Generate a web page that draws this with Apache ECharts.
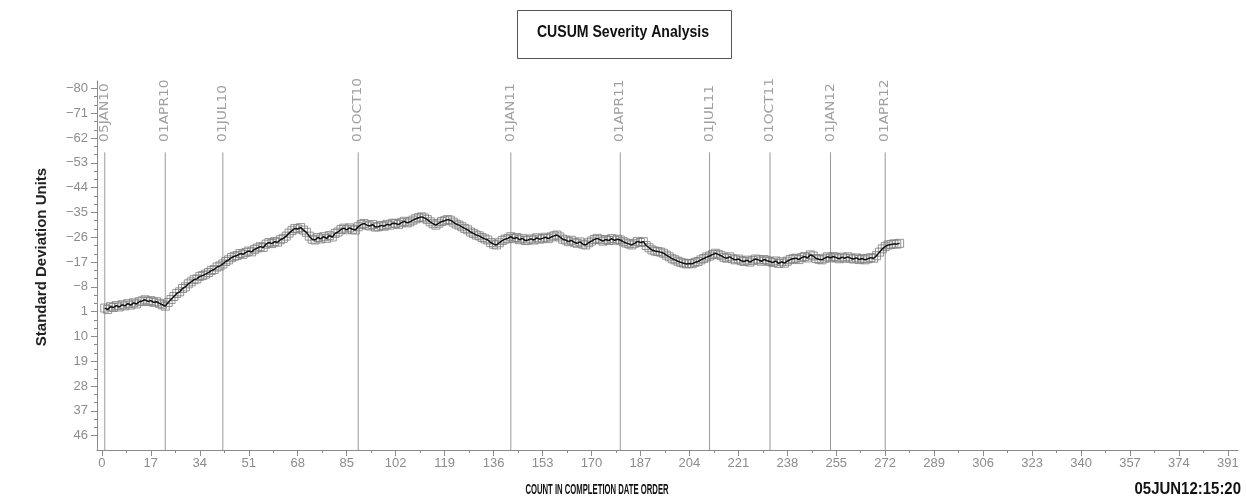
<!DOCTYPE html>
<html>
<head>
<meta charset="utf-8">
<script src="https://cdn.jsdelivr.net/npm/echarts@6/dist/echarts.min.js"></script>
<style>
html,body{margin:0;padding:0;background:#fff;}
#chart{width:1246px;height:497px;}
</style>
</head>
<body>
<div id="chart"></div>
<script>
// CUSUM values, one per count in completion date order (count 1..277)
const cusum = [
 -0.3, 0.2, -0.8, -0.5, -1.2, -0.7, -1.5, -1.1, -1.9, -1.4,
 -2.2, -1.8, -2.6, -2.9, -3.3, -2.7, -3.0, -2.4, -2.6, -2.0,
 -1.5, -1.0, -2.3, -3.4, -4.5, -5.6, -6.2, -7.4, -8.0, -9.1,
 -9.8, -10.6, -10.9, -11.8, -12.1, -12.6, -13.2, -13.9, -14.3, -15.2,
 -15.6, -16.3, -17.2, -17.8, -18.6, -19.1, -19.4, -20.1, -19.8, -20.5,
 -21.0, -20.7, -21.6, -22.1, -22.6, -22.3, -23.5, -24.1, -23.7, -24.4,
 -24.2, -25.1, -25.6, -26.4, -27.5, -28.4, -29.2, -29.0, -29.5, -28.6,
 -27.8, -26.4, -25.3, -25.0, -25.9, -25.4, -26.2, -25.6, -26.6, -26.1,
 -27.4, -27.9, -28.8, -29.3, -28.7, -29.4, -28.9, -28.6, -29.8, -30.6,
 -31.0, -30.4, -30.1, -30.6, -29.7, -29.8, -30.3, -30.0, -30.7, -30.4,
 -31.1, -31.0, -30.6, -31.3, -31.8, -31.2, -31.6, -32.2, -32.7, -33.1,
 -33.4, -33.0, -32.4, -31.6, -30.9, -30.4, -31.1, -31.7, -32.0, -32.4,
 -32.2, -31.5, -30.8, -30.4, -29.8, -29.2, -28.7, -27.9, -27.4, -26.8,
 -26.5, -25.9, -25.4, -25.0, -24.1, -23.5, -23.2, -24.0, -24.8, -25.3,
 -25.6, -26.2, -25.5, -25.9, -25.1, -25.6, -24.8, -25.0, -25.4, -25.0,
 -25.8, -25.3, -25.6, -26.0, -25.5, -26.1, -26.5, -26.8, -26.1, -25.3,
 -25.0, -24.4, -24.9, -24.2, -23.8, -24.3, -23.5, -23.2, -24.0, -24.6,
 -25.2, -25.6, -25.1, -24.6, -25.2, -24.8, -25.5, -24.9, -25.3, -25.0,
 -24.4, -23.9, -23.6, -23.2, -23.8, -24.5, -24.1, -24.4, -23.0, -22.2,
 -21.4, -21.0, -20.8, -20.6, -20.2, -19.5, -18.9, -18.2, -17.8, -17.3,
 -16.9, -16.6, -16.3, -16.5, -16.4, -16.9, -17.2, -17.8, -18.3, -18.8,
 -19.2, -19.7, -20.2, -19.8, -19.3, -18.7, -18.4, -18.9, -18.2, -17.8,
 -18.1, -17.5, -17.2, -17.7, -17.0, -17.6, -18.1, -17.8, -17.3, -17.9,
 -17.5, -17.2, -16.8, -17.4, -16.5, -17.1, -16.6, -17.3, -17.9, -18.2,
 -18.4, -17.9, -18.6, -19.0, -18.5, -19.6, -19.2, -18.3, -18.0, -17.8,
 -18.4, -18.9, -18.5, -19.0, -18.6, -18.2, -18.8, -18.4, -18.9, -18.4,
 -18.1, -18.5, -17.9, -18.3, -17.8, -18.2, -18.6, -18.4, -19.3, -20.6,
 -21.8, -22.6, -23.2, -23.4, -23.6, -23.5, -23.8
];
const refDates  = ['05JAN10','01APR10','01JUL10','01OCT10','01JAN11','01APR11','01JUL11','01OCT11','01JAN12','01APR12'];
const refCounts = [1, 22, 42, 89, 142, 180, 211, 232, 253, 272];
const xTicks = [0,17,34,51,68,85,102,119,136,153,170,187,204,221,238,255,272,289,306,323,340,357,374,391];
const yTicks = [-80,-71,-62,-53,-44,-35,-26,-17,-8,1,10,19,28,37,46];
const titleText = 'CUSUM Severity Analysis';
const yTitle = 'Standard Deviation Units';
const xTitle = 'COUNT IN COMPLETION DATE ORDER';
const stamp = '05JUN12:15:20';

const X_MIN = -1.7, X_MAX = 394.5, Y_MIN = -82.7, Y_MAX = 51.2;
const LINE_TOP = -56.8, LABEL_BOTTOM = -60.6;

const xMinor = xTicks.slice(0, -1).map(v => v + 8.5);
const yMinor = [];
yTicks.slice(0, -1).forEach(v => { yMinor.push(v + 3, v + 6); });

const pts = cusum.map((v, i) => [i + 1, v]);
const refData = refCounts.map((c, i) => [c, i]);

const gray = '#8a8a8a';
const narrow = "'Liberation Sans Narrow', 'Liberation Sans', sans-serif";

const chart = echarts.init(document.getElementById('chart'), null, {renderer: 'canvas'});
chart.setOption({
  backgroundColor: '#fff',
  animation: false,
  grid: {left: 97, right: 8, top: 81, bottom: 47, containLabel: false},
  xAxis: [{
    type: 'value', min: X_MIN, max: X_MAX, position: 'bottom',
    axisLine: {show: true, onZero: false, lineStyle: {color: gray, width: 1}},
    axisTick: {show: true, customValues: xTicks, length: 6, lineStyle: {color: gray}},
    axisLabel: {show: true, customValues: xTicks, color: '#8c8c8c', fontFamily: narrow, fontSize: 13, margin: 7},
    splitLine: {show: false}
  }, {
    type: 'value', min: X_MIN, max: X_MAX, position: 'bottom',
    axisLine: {show: false, onZero: false},
    axisTick: {show: true, customValues: xMinor, length: 3, lineStyle: {color: gray}},
    axisLabel: {show: false},
    splitLine: {show: false}
  }],
  yAxis: [{
    type: 'value', inverse: true, min: Y_MIN, max: Y_MAX, position: 'left',
    axisLine: {show: true, onZero: false, lineStyle: {color: gray, width: 1}},
    axisTick: {show: true, customValues: yTicks, length: 6, lineStyle: {color: gray}},
    axisLabel: {show: true, customValues: yTicks, color: '#8c8c8c', fontFamily: narrow, fontSize: 13, margin: 9,
      formatter: v => (v < 0 ? '\u2212' + Math.abs(v) : String(v))},
    splitLine: {show: false}
  }, {
    type: 'value', inverse: true, min: Y_MIN, max: Y_MAX, position: 'left',
    axisLine: {show: false, onZero: false},
    axisTick: {show: true, customValues: yMinor, length: 3, lineStyle: {color: gray}},
    axisLabel: {show: false},
    splitLine: {show: false}
  }],
  graphic: [
    {type: 'rect', left: 517, top: 10, shape: {width: 214, height: 48},
     style: {fill: '#fff', stroke: '#555', lineWidth: 1}},
    {type: 'text', x: 623, y: 33, scaleX: 0.88,
     style: {text: titleText, font: "bold 16px " + narrow, fill: '#111',
             textAlign: 'center', textVerticalAlign: 'middle', align: 'center', verticalAlign: 'middle'}},
    {type: 'text', x: 42, y: 257, rotation: Math.PI / 2,
     style: {text: yTitle, font: "bold 15px 'Liberation Sans', sans-serif", fill: '#222',
             textAlign: 'center', textVerticalAlign: 'middle', align: 'center', verticalAlign: 'middle'}},
    {type: 'text', x: 597, y: 490, scaleX: 0.55,
     style: {text: xTitle, font: "bold 14px " + narrow, fill: '#111',
             textAlign: 'center', textVerticalAlign: 'middle', align: 'center', verticalAlign: 'middle'}},
    {type: 'text', x: 1241, y: 489, scaleX: 0.88,
     style: {text: stamp, font: "bold 17px " + narrow, fill: '#111',
             textAlign: 'right', textVerticalAlign: 'middle', align: 'right', verticalAlign: 'middle'}}
  ],
  series: [
    {
      type: 'custom', xAxisIndex: 0, yAxisIndex: 0, data: refData, clip: false, z: 1,
      renderItem: function (params, api) {
        const x = api.value(0);
        const idx = api.value(1);
        const top = api.coord([x, LINE_TOP]);
        const bot = api.coord([x, Y_MAX]);
        const lab = api.coord([x, LABEL_BOTTOM]);
        return {
          type: 'group',
          children: [
            {type: 'line', shape: {x1: top[0], y1: top[1], x2: bot[0], y2: bot[1]},
             style: {stroke: '#9a9a9a', lineWidth: 1}},
            {type: 'text', x: lab[0], y: lab[1], rotation: Math.PI / 2, scaleX: 1.15,
             style: {text: refDates[idx], fill: '#a0a0a0', font: "12px 'DejaVu Sans', sans-serif",
                     textAlign: 'left', textVerticalAlign: 'middle', align: 'left', verticalAlign: 'middle'}}
          ]
        };
      }
    },
    {
      type: 'scatter', xAxisIndex: 0, yAxisIndex: 0, data: pts, z: 2,
      symbol: 'rect', symbolSize: 8,
      itemStyle: {color: 'rgba(0,0,0,0)', borderColor: '#7a7a7a', borderWidth: 1}
    },
    {
      type: 'line', xAxisIndex: 0, yAxisIndex: 0, data: pts, z: 3,
      showSymbol: false, symbol: 'none',
      lineStyle: {color: '#111', width: 1.5}
    }
  ]
});
</script>
</body>
</html>
